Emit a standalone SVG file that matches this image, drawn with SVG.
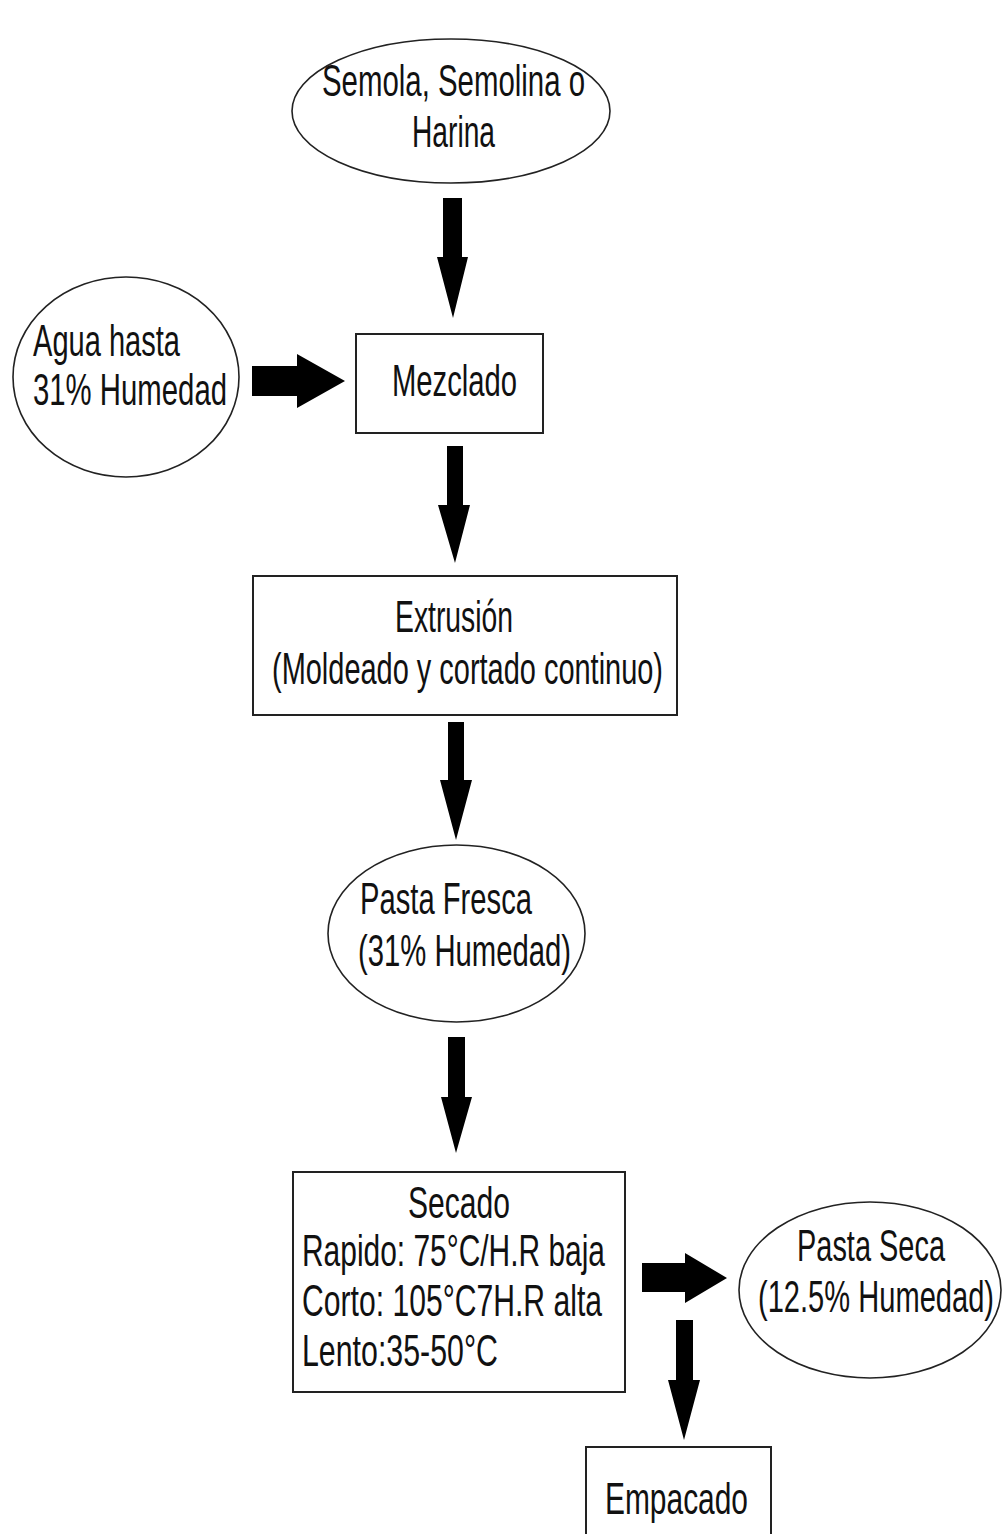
<svg xmlns="http://www.w3.org/2000/svg" width="1002" height="1534" viewBox="0 0 1002 1534">
<style>
.bg{fill:#ffffff}
.box{fill:#ffffff;stroke:#222222;stroke-width:2}
.ell{fill:#ffffff;stroke:#222222;stroke-width:1.6}
.t{font-family:"Liberation Sans",Arial,sans-serif;font-size:45px;fill:#111111}
.arr{fill:#000000;stroke:none}
</style>
<rect class="bg" x="0" y="0" width="1002" height="1534"/>
<g id="connectors">
<path class="arr" d="M443,198 L462,198 L462,257 L468,257 L453,318 L437,257 L443,257 Z"/>
<path class="arr" d="M252,366 L297,366 L297,354 L345,381 L297,408 L297,396 L252,396 Z"/>
<path class="arr" d="M447,446 L463,446 L463,505 L470,505 L455,563 L438,505 L447,505 Z"/>
<path class="arr" d="M448,722 L464,722 L464,780 L472,780 L456,840 L440,780 L448,780 Z"/>
<path class="arr" d="M448,1037 L465,1037 L465,1097 L472,1097 L456,1153 L441,1097 L448,1097 Z"/>
<path class="arr" d="M642,1263 L685,1263 L685,1253 L727,1278 L685,1303 L685,1292 L642,1292 Z"/>
<path class="arr" d="M676,1320 L693,1320 L693,1380 L700,1380 L684,1440 L668,1380 L676,1380 Z"/>
</g>
<g id="node-semola">
<ellipse class="ell" cx="451" cy="111" rx="159" ry="72"/>
<text class="t" x="322" y="96" textLength="263" lengthAdjust="spacingAndGlyphs">Semola, Semolina o</text>
<text class="t" x="412" y="147" textLength="83" lengthAdjust="spacingAndGlyphs">Harina</text>
</g>
<g id="node-agua">
<ellipse class="ell" cx="126" cy="377" rx="113" ry="100"/>
<text class="t" x="33" y="356" textLength="147" lengthAdjust="spacingAndGlyphs">Agua hasta</text>
<text class="t" x="33" y="405" textLength="194" lengthAdjust="spacingAndGlyphs">31% Humedad</text>
</g>
<g id="node-mezclado">
<rect class="box" x="356" y="334" width="187" height="99"/>
<text class="t" x="392" y="396" textLength="125" lengthAdjust="spacingAndGlyphs">Mezclado</text>
</g>
<g id="node-extrusion">
<rect class="box" x="253" y="576" width="424" height="139"/>
<text class="t" x="395" y="632" textLength="118" lengthAdjust="spacingAndGlyphs">Extrusión</text>
<text class="t" x="272" y="684" textLength="391" lengthAdjust="spacingAndGlyphs">(Moldeado y cortado continuo)</text>
</g>
<g id="node-pasta-fresca">
<ellipse class="ell" cx="456.5" cy="933.5" rx="128.5" ry="88.5"/>
<text class="t" x="360" y="914" textLength="172" lengthAdjust="spacingAndGlyphs">Pasta Fresca</text>
<text class="t" x="358" y="966" textLength="213" lengthAdjust="spacingAndGlyphs">(31% Humedad)</text>
</g>
<g id="node-secado">
<rect class="box" x="293" y="1172" width="332" height="220"/>
<text class="t" x="408" y="1218" textLength="102" lengthAdjust="spacingAndGlyphs">Secado</text>
<text class="t" x="302" y="1266" textLength="303" lengthAdjust="spacingAndGlyphs">Rapido: 75°C/H.R baja</text>
<text class="t" x="302" y="1316" textLength="300" lengthAdjust="spacingAndGlyphs">Corto: 105°C7H.R alta</text>
<text class="t" x="302" y="1366" textLength="196" lengthAdjust="spacingAndGlyphs">Lento:35-50°C</text>
</g>
<g id="node-pasta-seca">
<ellipse class="ell" cx="870" cy="1290" rx="131" ry="88"/>
<text class="t" transform="translate(797,1261) scale(0.643,1)" x="0" y="0">Pasta Seca</text>
<text class="t" transform="translate(758,1312) scale(0.6466,1)" x="0" y="0">(12.5% Humedad)</text>
</g>
<g id="node-empacado">
<rect class="box" x="586" y="1447" width="185" height="100"/>
<text class="t" x="605" y="1514" textLength="143" lengthAdjust="spacingAndGlyphs">Empacado</text>
</g>
</svg>
